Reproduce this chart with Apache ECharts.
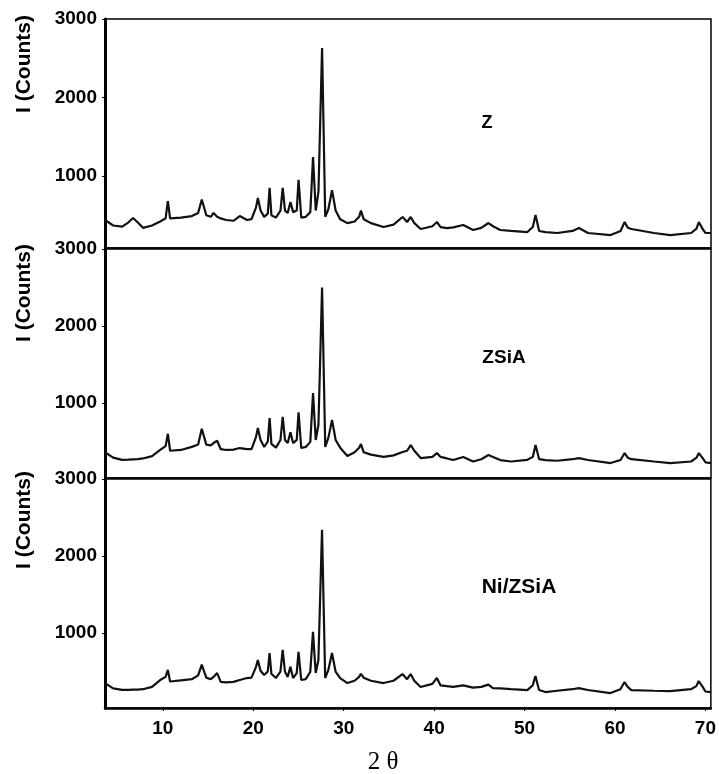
<!DOCTYPE html>
<html>
<head>
<meta charset="utf-8">
<script src="https://cdn.jsdelivr.net/npm/echarts@6/dist/echarts.min.js"></script>
<style>
html,body{margin:0;padding:0;background:#fff;}
#chart{width:719px;height:774px;}
</style>
</head>
<body>
<div id="chart"></div>
<script>
// 2θ positions (degrees)
var twoTheta = [3.6,4.5,5.5,6.2,6.7,7.2,7.8,8.8,9.7,10.3,10.55,10.8,12.0,13.2,13.9,14.3,14.8,15.3,15.6,16.0,16.4,17.0,17.8,18.5,19.3,19.8,20.3,20.5,20.8,21.2,21.6,21.8,22.0,22.5,23.0,23.25,23.5,23.8,24.1,24.4,24.8,25.0,25.3,25.8,26.3,26.6,26.9,27.2,27.6,27.95,28.3,28.7,29.1,29.6,30.4,31.2,31.7,31.9,32.2,33.0,34.4,35.5,36.5,37.0,37.4,37.8,38.5,39.8,40.3,40.7,41.4,42.1,43.2,44.3,45.2,46.0,46.5,47.3,48.5,50.3,50.9,51.2,51.6,52.3,53.6,55.3,56.0,57.0,59.5,60.6,61.05,61.4,61.8,64.3,66.1,68.4,69.0,69.25,69.7,70.0,70.6];
// Intensities (counts)
var intensityZ = [440,370,355,410,465,410,340,370,420,460,680,460,470,490,530,700,500,480,530,480,460,440,430,490,440,450,600,720,560,480,520,850,500,470,560,850,560,530,670,540,560,950,470,480,540,1240,560,800,2630,480,580,820,560,450,400,420,480,560,450,400,350,380,478,414,478,400,325,360,414,350,337,345,376,312,340,401,360,312,300,286,350,503,300,286,274,300,337,274,248,300,414,340,325,274,248,274,330,414,320,274,274];
var intensityZSiA = [360,290,262,265,268,270,280,310,390,440,600,380,390,430,460,665,460,450,480,510,400,390,395,415,400,400,560,675,520,430,500,805,470,420,520,820,520,480,620,480,520,880,415,430,495,1130,520,720,2500,430,550,780,520,420,311,360,420,467,360,330,300,320,363,380,454,380,285,300,350,300,280,259,298,240,270,324,300,259,240,262,300,454,270,259,250,270,285,260,220,260,350,290,270,240,220,240,290,350,280,230,220];
var intensityNi = [350,280,262,262,265,265,270,300,389,430,520,370,385,400,450,590,420,400,430,480,365,360,365,390,415,420,560,650,510,454,500,740,470,415,500,780,500,428,560,415,480,755,390,400,495,1015,480,650,2340,415,520,740,500,415,350,380,430,470,420,380,350,380,467,400,467,380,298,340,415,320,310,300,320,290,300,330,285,280,270,259,320,441,260,233,250,270,285,260,220,270,363,300,259,250,246,270,310,376,300,240,233];
var yTickValues = [1000, 2000, 3000];
var xTickValues = [10, 20, 30, 40, 50, 60, 70];
var panelNames = ['Z', 'ZSiA', 'Ni/ZSiA'];
var yTitle = 'I (Counts)';
var xTitle = '2 \u03b8';

function pairs(ys){ return twoTheta.map(function(x,i){ return [x, ys[i]]; }); }
function plain(v){ return String(v); }

var font = 'Liberation Sans, Arial, sans-serif';
var tops = [19, 249, 479];
var yMins = [83, 26, 26];
var seriesData = [intensityZ, intensityZSiA, intensityNi];

var grids = [], xAxes = [], yAxes = [], series = [], graphics = [];
for (var i = 0; i < 3; i++) {
  grids.push({left:105, right:8, top:tops[i], height:229, show:true, borderColor:'#000', borderWidth:1.5, backgroundColor:'transparent'});
  xAxes.push({
    type:'value', gridIndex:i, min:3.6, max:70.6,
    splitLine:{show:false},
    axisLine:{show:true, onZero:false, lineStyle:{color:'#000', width: i===2 ? 2.5 : 1.5}},
    axisTick:{show: i===2, customValues: xTickValues, length:3, lineStyle:{color:'#000'}},
    axisLabel:{show: i===2, customValues: xTickValues, formatter: plain, color:'#000', fontWeight:'bold', fontSize:19, fontFamily:font, margin:11}
  });
  yAxes.push({
    type:'value', gridIndex:i, min:yMins[i], max:3000,
    splitLine:{show:false},
    axisLine:{show:true, onZero:false, lineStyle:{color:'#000', width:3}},
    axisTick:{show:true, customValues: yTickValues, length:3, lineStyle:{color:'#000'}},
    axisLabel:{customValues: yTickValues, formatter: plain, color:'#000', fontWeight:'bold', fontSize:19, fontFamily:font, margin:8}
  });
  series.push({
    type:'line', xAxisIndex:i, yAxisIndex:i, data:pairs(seriesData[i]),
    showSymbol:false, symbol:'none', lineStyle:{color:'#111', width:2.2}, silent:true
  });
}

var yTitleY = [64, 293, 520];
for (var j = 0; j < 3; j++) {
  graphics.push({type:'text', x:24, y:yTitleY[j], rotation:Math.PI/2,
    style:{text:yTitle, fill:'#000', font:'bold 21px ' + font, textAlign:'center', textVerticalAlign:'middle'}});
}
var labelPos = [[487,123,18],[504,358,19],[519,587,21]];
for (var k = 0; k < 3; k++) {
  graphics.push({type:'text', x:labelPos[k][0], y:labelPos[k][1],
    style:{text:panelNames[k], fill:'#000', font:'bold ' + labelPos[k][2] + 'px ' + font, textAlign:'center', textVerticalAlign:'middle'}});
}
graphics.push({type:'text', x:383, y:762,
  style:{text:xTitle, fill:'#000', font:'25px Liberation Serif, Times New Roman, serif', textAlign:'center', textVerticalAlign:'middle'}});

var chart = echarts.init(document.getElementById('chart'), null, {renderer:'canvas'});
chart.setOption({
  animation:false,
  backgroundColor:'#fff',
  grid:grids, xAxis:xAxes, yAxis:yAxes, series:series, graphic:graphics
});
</script>
</body>
</html>
